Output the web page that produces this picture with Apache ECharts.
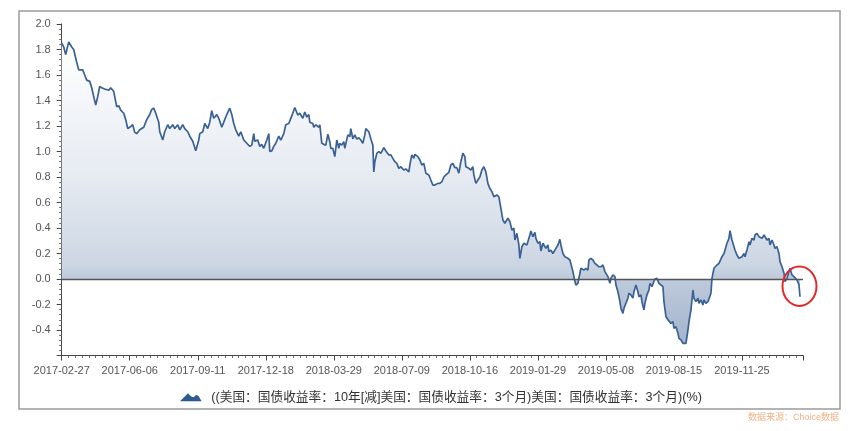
<!DOCTYPE html>
<html>
<head>
<meta charset="utf-8">
<script src="https://cdn.jsdelivr.net/npm/echarts@6/dist/echarts.min.js"></script>
<style>html,body{margin:0;padding:0;background:#fff}#c{width:865px;height:431px}</style>
</head>
<body>
<div id="c"></div>
<script>
// x tick labels: one per 68 trading days
const tickLabels = ['2017-02-27','2017-06-06','2017-09-11','2017-12-18','2018-03-29','2018-07-09','2018-10-16','2019-01-29','2019-05-08','2019-08-15','2019-11-25'];
const seriesName = '((美国：国债收益率：10年[减]美国：国债收益率：3个月)美国：国债收益率：3个月)(%)';
// trading-day index from 2017-02-27
const tradingDay = [
0,2,4,7,10,12,15,17,18,21,23,25,28,30,32,34,36,38,40,43,47,49,52,53,55,57,59,62,64,66,68,71,73,75,78,82,85,88,90,92,94,97,98,101,103,106,108,111,113,116,118,121,123,126,128,131,134,137,138,141,143,146,148,150,152,155,157,160,162,165,168,170,172,174,177,179,182,185,188,190,192,193,196,198,200,202,205,207,208,210,212,214,217,219,222,224,227,229,231,233,
236,238,241,243,245,247,248,251,252,254,257,258,260,262,264,266,268,269,271,273,275,277,278,280,282,283,286,288,289,291,293,295,297,299,301,303,304,307,309,311,312,313,315,317,319,322,324,327,329,331,333,335,337,339,342,344,347,348,350,352,353,356,358,360,362,364,367,369,371,373,376,378,380,382,384,387,389,391,393,395,397,399,401,403,404,407,409,411,412,414,416,418,420,422,424,426,428,
430,432,435,437,439,441,443,446,448,450,452,453,455,457,458,460,462,463,465,467,468,469,471,473,474,476,478,479,481,482,484,486,487,489,491,492,494,496,498,499,501,503,506,508,509,511,513,514,516,518,519,522,524,526,527,529,531,533,535,537,539,541,543,544,546,548,549,551,553,554,556,558,559,561,562,564,566,567,569,571,572,574,576,577,579,
580,582,583,585,587,588,590,592,593,595,597,599,601,602,604,606,607,609,611,612,614,616,617,619,621,622,624,626,627,629,631,632,634,636,637,639,641,642,644,646,647,649,650,652,653,655,657,658,660,662,663,665,667,668,670,672,673,675,677,678,680,682,683,685,687,688,690,692,693,695,697,698,700,702,703,705,707,708,710,712,713,715,717,718,720,722,723,725,727,728,730,732,733,735,737,738
];
// spread values (%)
const spread = [
1.85,1.82,1.76,1.86,1.82,1.80,1.70,1.64,1.63,1.64,1.60,1.56,1.55,1.50,1.43,1.365,1.43,1.51,1.50,1.49,1.48,1.50,1.47,1.43,1.35,1.36,1.325,1.30,1.25,1.18,1.19,1.21,1.15,1.14,1.17,1.19,1.25,1.29,1.33,1.34,1.30,1.23,1.155,1.09,1.155,1.21,1.18,1.21,1.18,1.21,1.17,1.21,1.18,1.155,1.12,1.08,1.006,1.09,1.14,1.155,1.22,1.18,1.23,1.32,1.26,1.29,1.26,1.19,1.23,1.29,1.34,1.29,1.22,1.17,1.12,1.155,1.09,1.065,1.04,1.05,1.14,1.08,1.09,1.04,1.055,1.025,1.09,1.14,1.00,1.005,1.04,1.065,1.12,1.09,1.14,1.21,1.22,1.26,1.30,1.345,
1.286,1.30,1.26,1.31,1.27,1.29,1.23,1.22,1.19,1.21,1.19,1.21,1.064,1.056,1.05,1.135,1.077,1.025,1.025,0.96,1.09,1.025,1.064,1.05,1.077,1.025,1.13,1.116,1.18,1.10,1.13,1.098,1.108,1.09,1.064,1.13,1.18,1.155,1.10,1.05,0.84,0.92,0.985,1.00,0.985,1.03,1.004,0.973,0.973,0.946,0.92,0.907,0.868,0.88,0.855,0.863,0.84,0.894,0.973,0.946,0.978,0.96,0.933,0.894,0.907,0.83,0.816,0.776,0.737,0.737,0.75,0.75,0.763,0.80,0.816,0.837,0.894,0.907,0.873,0.873,0.83,0.92,0.986,0.96,0.88,0.868,0.855,0.88,0.816,0.75,0.776,0.80,0.855,0.88,0.84,0.75,0.71,
0.685,0.645,0.659,0.645,0.554,0.463,0.437,0.476,0.45,0.384,0.40,0.306,0.358,0.267,0.162,0.253,0.28,0.293,0.267,0.319,0.345,0.376,0.332,0.366,0.319,0.28,0.293,0.22,0.28,0.267,0.24,0.267,0.214,0.227,0.20,0.214,0.24,0.267,0.311,0.267,0.20,0.175,0.162,0.149,0.149,0.058,-0.02,-0.047,-0.034,0.045,0.084,0.07,0.084,0.07,0.149,0.162,0.149,0.123,0.11,0.096,0.096,0.11,0.058,0.045,0.019,-0.034,0.006,0.032,0.019,-0.047,-0.1,-0.178,-0.23,-0.27,-0.23,-0.19,-0.15,-0.112,-0.125,-0.15,-0.1,-0.047,-0.1,-0.139,-0.125,
-0.178,-0.243,-0.19,-0.125,-0.086,-0.034,-0.06,-0.02,0.0,0.005,-0.034,-0.047,-0.06,-0.178,-0.296,-0.32,-0.31,-0.348,-0.335,-0.387,-0.374,-0.426,-0.465,-0.478,-0.505,-0.49,-0.505,-0.40,-0.335,-0.243,-0.086,-0.151,-0.178,-0.151,-0.19,-0.165,-0.204,-0.165,-0.19,-0.178,-0.178,-0.112,0.005,0.084,0.096,0.11,0.123,0.11,0.175,0.20,0.214,0.28,0.319,0.379,0.306,0.253,0.227,0.188,0.162,0.149,0.175,0.20,0.175,0.227,0.293,0.267,0.319,0.306,0.345,0.358,0.332,0.345,0.319,0.345,0.358,0.306,0.319,0.267,0.306,0.267,0.24,0.253,0.20,0.136,0.096,0.045,-0.02,0.005,0.058,0.084,0.032,0.019,0.005,-0.008,-0.047,-0.139
];
const labelStep = 68;

const FONT = 'Liberation Sans, Arial, Noto Sans CJK SC, sans-serif';
const chart = echarts.init(document.getElementById('c'), null, {renderer: 'canvas'});
const points = tradingDay.map((d, i) => [d, spread[i]]);

chart.setOption({
  animation: false,
  backgroundColor: '#ffffff',
  textStyle: {fontFamily: FONT},
  title: {
    text: '数据来源：Choice数据',
    right: 21, top: 408,
    textStyle: {fontSize: 9, fontWeight: 'normal', color: '#f4b183', fontFamily: FONT}
  },
  grid: {left: 61.7, right: 62, top: 24, bottom: 75.5, containLabel: false},
  legend: {
    left: 175, top: 386,
    itemWidth: 27, itemHeight: 8, itemGap: 10,
    icon: 'path://M0,10 L6,4 L10,0 L14,4 L17,5 L20,2 L23,3 L27,10 Z',
    itemStyle: {color: '#2f5a8e', borderWidth: 0},
    textStyle: {fontSize: 12.7, color: '#333', fontFamily: FONT, padding: [0, 0, 0, 2]},
    data: [seriesName]
  },
  xAxis: {
    type: 'value', min: 0, max: 741, interval: labelStep,
    axisLine: {onZero: false, lineStyle: {color: '#444', width: 1}},
    axisTick: {show: true, length: 5, lineStyle: {color: '#444'}},
    minorTick: {show: true, splitNumber: 10, length: 2.5, lineStyle: {color: '#666'}},
    splitLine: {show: false},
    axisLabel: {
      color: '#555', fontSize: 11, margin: 10, showMaxLabel: false,
      formatter: v => tickLabels[Math.round(v / labelStep)] || ''
    }
  },
  yAxis: {
    type: 'value', min: -0.6, max: 2.0, interval: 0.2,
    axisLine: {show: true, lineStyle: {color: '#444', width: 1}},
    axisTick: {show: true, length: 5, lineStyle: {color: '#444'}},
    minorTick: {show: true, splitNumber: 5, length: 2.5, lineStyle: {color: '#666'}},
    splitLine: {show: false},
    axisLabel: {
      color: '#555', fontSize: 11, margin: 11, showMinLabel: false,
      formatter: v => v.toFixed(1)
    }
  },
  series: [{
    name: seriesName,
    type: 'line',
    data: points,
    showSymbol: false,
    symbol: 'none',
    smooth: false,
    itemStyle: {color: '#2f5a8e'},
    lineStyle: {color: '#3a6194', width: 1.7},
    areaStyle: {
      origin: 'auto',
      opacity: 1,
      color: new echarts.graphic.LinearGradient(0, 0, 0, 1, [
        {offset: 0, color: '#ffffff'},
        {offset: 0.45, color: '#e6ebf2'},
        {offset: 0.74, color: '#ccd6e3'},
        {offset: 0.78, color: '#bfcbdc'},
        {offset: 1, color: '#a3b4cc'}
      ])
    },
    markLine: {
      silent: true, symbol: 'none', label: {show: false},
      lineStyle: {color: '#555', width: 1.3, type: 'solid'},
      data: [{yAxis: 0}]
    }
  }]
});

// annotations: outer frame and red circle around the latest readings
const lastIdx = tradingDay[tradingDay.length - 1];
const c = chart.convertToPixel({gridIndex: 0}, [lastIdx - 0.5, -0.057]);
chart.setOption({
  graphic: [
    {type: 'rect', silent: true, z: 100,
     shape: {x: 19, y: 11, width: 821, height: 398},
     style: {fill: 'none', stroke: '#9a9a9a', lineWidth: 1.5}},
    {type: 'ellipse', silent: true, z: 100,
     shape: {cx: c[0], cy: c[1], rx: 17, ry: 19.7},
     style: {fill: 'none', stroke: '#e02a2a', lineWidth: 2}}
  ]
});
</script>
</body>
</html>
